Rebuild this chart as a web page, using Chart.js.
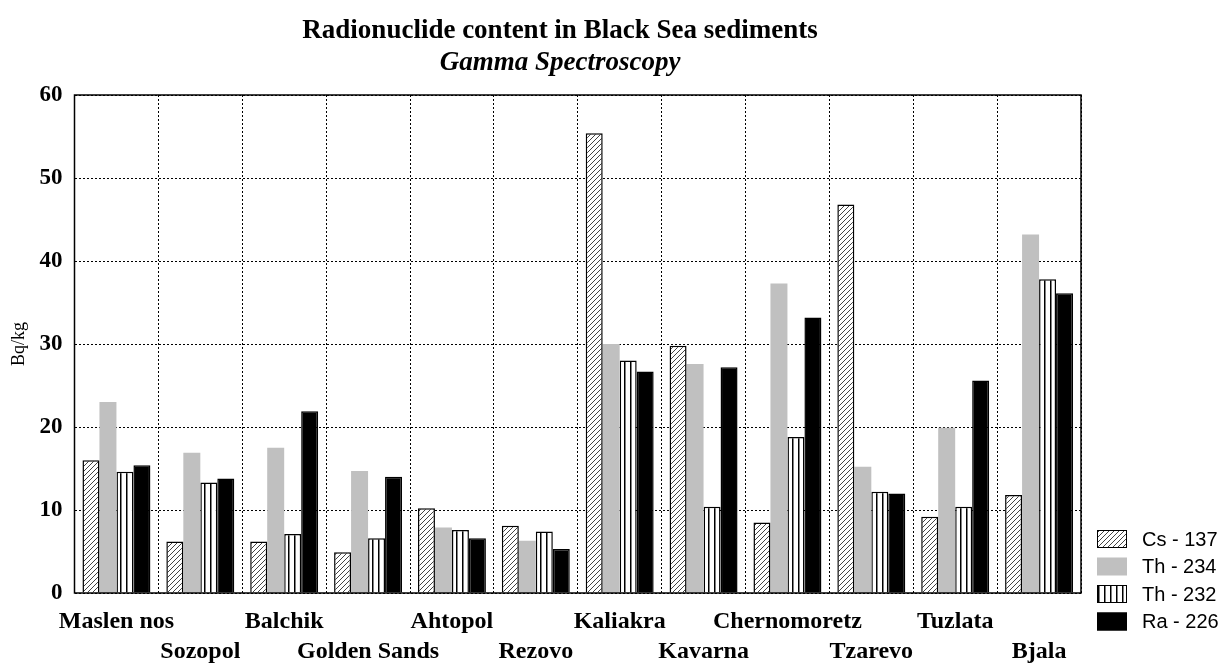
<!DOCTYPE html>
<html lang="en">
<head>
<meta charset="UTF-8" />
<title>Radionuclide content in Black Sea sediments</title>
<script src="https://cdn.jsdelivr.net/npm/chart.js"></script>
<style>
  html, body { margin: 0; padding: 0; background: #fff; }
  #wrap { width: 1232px; height: 664px; }
</style>
</head>
<body>
<div id="wrap"><canvas id="chart" width="1232" height="664"></canvas></div>

<script>
const sites = ['Maslen nos', 'Sozopol', 'Balchik', 'Golden Sands', 'Ahtopol', 'Rezovo',
  'Kaliakra', 'Kavarna', 'Chernomoretz', 'Tzarevo', 'Tuzlata', 'Bjala'];
const cs137 = [16.0, 6.2, 6.2, 4.9, 10.2, 8.1, 55.4, 29.8, 8.5, 46.8, 9.2, 11.8];
const th234 = [23.0, 16.9, 17.5, 14.7, 7.9, 6.3, 30.0, 27.6, 37.3, 15.2, 19.9, 43.2];
const th232 = [14.6, 13.3, 7.1, 6.6, 7.6, 7.4, 28.0, 10.4, 18.8, 12.2, 10.4, 37.8];
const ra226 = [15.4, 13.8, 21.9, 14.0, 6.6, 5.3, 26.7, 27.2, 33.2, 12.0, 25.6, 36.1];
const yTicks = [0, 10, 20, 30, 40, 50, 60];

const serif = '"Liberation Serif", "Times New Roman", serif';
const sans = '"Liberation Sans", Arial, sans-serif';

// fill patterns
function hatch() {
  const c = document.createElement('canvas');
  c.width = 5; c.height = 5;
  const g = c.getContext('2d');
  g.fillStyle = '#fff';
  g.fillRect(0, 0, 5, 5);
  g.strokeStyle = '#444';
  g.lineWidth = 1;
  g.beginPath();
  g.moveTo(-1, 6); g.lineTo(6, -1);
  g.moveTo(-4, 4); g.lineTo(4, -4);
  g.moveTo(1, 9); g.lineTo(9, 1);
  g.stroke();
  return g.createPattern(c, 'repeat');
}
function stripes() {
  const c = document.createElement('canvas');
  c.width = 6; c.height = 6;
  const g = c.getContext('2d');
  g.fillStyle = '#fff';
  g.fillRect(0, 0, 6, 6);
  g.fillStyle = '#000';
  g.fillRect(0, 0, 1.5, 6);
  return g.createPattern(c, 'repeat');
}

// frame, titles and legend drawn on top
const decor = {
  id: 'decor',
  afterDatasetsDraw(chart) {
    const { ctx, chartArea: a } = chart;
    ctx.save();
    ctx.strokeStyle = '#000';
    ctx.lineWidth = 1.5;
    ctx.strokeRect(a.left, a.top, a.right - a.left, a.bottom - a.top);
    ctx.restore();
  },
  afterDraw(chart) {
    const { ctx, chartArea: a } = chart;
    ctx.save();
    ctx.fillStyle = '#000';
    ctx.textAlign = 'center';
    ctx.textBaseline = 'middle';
    ctx.font = 'bold 27px ' + serif;
    ctx.fillText('Radionuclide content in Black Sea sediments', 560, 31);
    ctx.font = 'italic bold 27px ' + serif;
    ctx.fillText('Gamma Spectroscopy', 560, 63);

    // legend
    ctx.textAlign = 'left';
    ctx.font = '20px ' + sans;
    chart.data.datasets.forEach((ds, i) => {
      const y = 539 + i * 27.5;
      const x = a.right + 16;
      ctx.fillStyle = ds.backgroundColor;
      ctx.fillRect(x, y - 9, 30, 18);
      if (ds.borderWidth) {
        ctx.strokeStyle = '#000';
        ctx.lineWidth = 1;
        ctx.strokeRect(x + 0.5, y - 8.5, 29, 17);
      }
      ctx.fillStyle = '#000';
      ctx.fillText(ds.label, x + 45, y + 1);
    });
    ctx.restore();
  }
};

new Chart(document.getElementById('chart'), {
  type: 'bar',
  data: {
    labels: sites,
    datasets: [
      { label: 'Cs - 137', data: cs137, backgroundColor: hatch(), borderColor: '#000', borderWidth: 1.5 },
      { label: 'Th - 234', data: th234, backgroundColor: '#c0c0c0', borderWidth: 0 },
      { label: 'Th - 232', data: th232, backgroundColor: stripes(), borderColor: '#000', borderWidth: 1.5 },
      { label: 'Ra - 226', data: ra226, backgroundColor: '#000', borderColor: '#000', borderWidth: 1.5 }
    ]
  },
  options: {
    responsive: false,
    animation: false,
    layout: { padding: { left: 0, right: 151, top: 95, bottom: 0 } },
    datasets: { bar: { categoryPercentage: 0.81, barPercentage: 1.0 } },
    scales: {
      x: {
        grid: { color: '#000', lineWidth: 1, drawTicks: false },
        border: { display: false, dash: [2, 2] },
        ticks: {
          color: '#000',
          autoSkip: false,
          maxRotation: 0,
          minRotation: 0,
          padding: 14,
          font: { family: serif, size: 24, weight: 'bold', lineHeight: 1.25 },
          // alternate labels between the two rows
          callback: (v, i) => (i % 2 === 0 ? [sites[i], ''] : ['', sites[i]])
        },
        afterFit: s => { s.height = 71; }
      },
      y: {
        min: 0,
        max: 60,
        afterBuildTicks: s => { s.ticks = yTicks.map(v => ({ value: v })); },
        grid: { color: '#000', lineWidth: 1, drawTicks: false },
        border: { display: false, dash: [2, 2] },
        ticks: {
          color: '#000',
          padding: 12,
          font: { family: serif, size: 23, weight: 'bold' }
        },
        title: {
          display: true,
          text: 'Bq/kg',
          color: '#000',
          padding: { top: 8, bottom: 0 },
          font: { family: serif, size: 18 }
        },
        afterFit: s => { s.width = 74.5; }
      }
    },
    plugins: {
      legend: { display: false },
      tooltip: { enabled: false }
    }
  },
  plugins: [decor]
});
</script>
</body>
</html>
